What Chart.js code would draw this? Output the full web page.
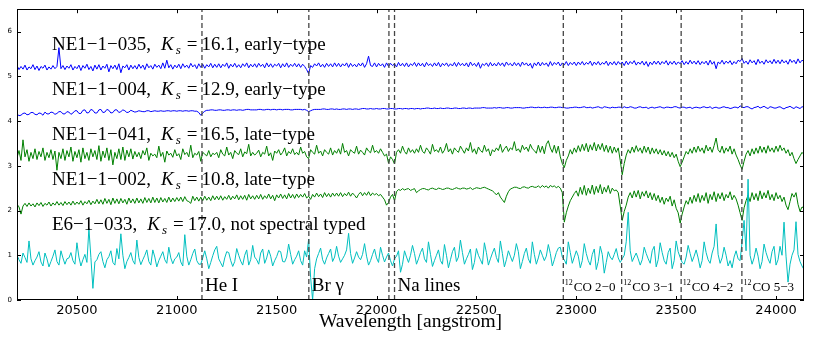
<!DOCTYPE html>
<html>
<head>
<meta charset="utf-8">
<script src="https://cdn.jsdelivr.net/npm/chart.js@4/dist/chart.umd.min.js"></script>
<style>
  html, body { margin: 0; padding: 0; background: #ffffff; }
  #wrap { width: 814px; height: 348px; }
</style>
</head>
<body>
<div id="wrap"><canvas id="c" width="814" height="348"></canvas></div>
<script>
// ---------------- DATA ----------------
const wavelength = [
20200,20210,20220,20230,20240,20250,20260,20270,20280,20290,20300,20310,20320,20330,20340,20350,20360,20370,20380,20390,
20400,20410,20420,20430,20440,20450,20460,20470,20480,20490,20500,20510,20520,20530,20540,20550,20560,20570,20580,20590,
20600,20610,20620,20630,20640,20650,20660,20670,20680,20690,20700,20710,20720,20730,20740,20750,20760,20770,20780,20790,
20800,20810,20820,20830,20840,20850,20860,20870,20880,20890,20900,20910,20920,20930,20940,20950,20960,20970,20980,20990,
21000,21010,21020,21030,21040,21050,21060,21070,21080,21090,21100,21110,21120,21130,21140,21150,21160,21170,21180,21190,
21200,21210,21220,21230,21240,21250,21260,21270,21280,21290,21300,21310,21320,21330,21340,21350,21360,21370,21380,21390,
21400,21410,21420,21430,21440,21450,21460,21470,21480,21490,21500,21510,21520,21530,21540,21550,21560,21570,21580,21590,
21600,21610,21620,21630,21640,21650,21660,21670,21680,21690,21700,21710,21720,21730,21740,21750,21760,21770,21780,21790,
21800,21810,21820,21830,21840,21850,21860,21870,21880,21890,21900,21910,21920,21930,21940,21950,21960,21970,21980,21990,
22000,22010,22020,22030,22040,22050,22060,22070,22080,22090,22100,22110,22120,22130,22140,22150,22160,22170,22180,22190,
22200,22210,22220,22230,22240,22250,22260,22270,22280,22290,22300,22310,22320,22330,22340,22350,22360,22370,22380,22390,
22400,22410,22420,22430,22440,22450,22460,22470,22480,22490,22500,22510,22520,22530,22540,22550,22560,22570,22580,22590,
22600,22610,22620,22630,22640,22650,22660,22670,22680,22690,22700,22710,22720,22730,22740,22750,22760,22770,22780,22790,
22800,22810,22820,22830,22840,22850,22860,22870,22880,22890,22900,22910,22920,22930,22940,22950,22960,22970,22980,22990,
23000,23010,23020,23030,23040,23050,23060,23070,23080,23090,23100,23110,23120,23130,23140,23150,23160,23170,23180,23190,
23200,23210,23220,23230,23240,23250,23260,23270,23280,23290,23300,23310,23320,23330,23340,23350,23360,23370,23380,23390,
23400,23410,23420,23430,23440,23450,23460,23470,23480,23490,23500,23510,23520,23530,23540,23550,23560,23570,23580,23590,
23600,23610,23620,23630,23640,23650,23660,23670,23680,23690,23700,23710,23720,23730,23740,23750,23760,23770,23780,23790,
23800,23810,23820,23830,23840,23850,23860,23870,23880,23890,23900,23910,23920,23930,23940,23950,23960,23970,23980,23990,
24000,24010,24020,24030,24040,24050,24060,24070,24080,24090,24100,24110,24120,24130,24140];

const fluxNE1_035 = [
5.24,5.15,5.22,5.16,5.25,5.14,5.21,5.17,5.26,5.15,5.23,5.13,5.22,5.18,5.25,5.14,5.21,5.16,5.24,5.17,
5.22,5.64,5.17,5.24,5.15,5.23,5.18,5.26,5.14,5.22,5.17,5.25,5.13,5.24,5.18,5.27,5.15,5.22,5.12,5.25,
5.16,5.26,5.14,5.23,5.18,5.27,5.10,5.24,5.17,5.25,5.15,5.28,5.08,5.23,5.19,5.26,5.14,5.25,5.17,5.24,
5.16,5.27,5.18,5.25,5.15,5.28,5.19,5.24,5.16,5.27,5.20,5.25,5.17,5.30,5.18,5.36,5.19,5.26,5.16,5.25,
5.19,5.27,5.17,5.28,5.20,5.25,5.18,5.29,5.21,5.26,5.17,5.28,5.20,5.27,5.18,5.26,5.21,5.29,5.19,5.27,
5.20,5.28,5.19,5.27,5.22,5.30,5.18,5.27,5.21,5.29,5.20,5.26,5.19,5.28,5.22,5.30,5.19,5.27,5.21,5.28,
5.20,5.29,5.22,5.27,5.19,5.30,5.21,5.28,5.20,5.27,5.23,5.29,5.19,5.28,5.21,5.30,5.20,5.27,5.22,5.29,
5.21,5.28,5.20,5.27,5.22,5.15,5.06,5.24,5.20,5.28,5.23,5.30,5.21,5.27,5.20,5.29,5.22,5.28,5.21,5.30,
5.22,5.29,5.21,5.28,5.23,5.30,5.20,5.29,5.22,5.27,5.21,5.29,5.23,5.30,5.20,5.28,5.45,5.24,5.22,5.30,
5.21,5.29,5.23,5.28,5.20,5.30,5.22,5.29,5.24,5.28,5.21,5.31,5.23,5.29,5.22,5.30,5.21,5.28,5.24,5.31,
5.22,5.30,5.23,5.29,5.21,5.31,5.24,5.28,5.22,5.30,5.23,5.31,5.21,5.29,5.24,5.30,5.22,5.28,5.23,5.31,
5.22,5.31,5.24,5.29,5.23,5.30,5.21,5.32,5.24,5.29,5.22,5.31,5.18,5.28,5.24,5.30,5.22,5.31,5.23,5.29,
5.23,5.31,5.24,5.30,5.22,5.32,5.25,5.29,5.23,5.31,5.24,5.30,5.22,5.32,5.25,5.30,5.23,5.29,5.18,5.30,
5.24,5.32,5.23,5.31,5.25,5.30,5.22,5.33,5.24,5.31,5.26,5.32,5.23,5.30,5.25,5.33,5.24,5.31,5.26,5.32,
5.24,5.32,5.26,5.33,5.25,5.31,5.27,5.34,5.24,5.32,5.26,5.33,5.25,5.31,5.27,5.34,5.24,5.32,5.26,5.33,
5.25,5.33,5.27,5.32,5.24,5.34,5.26,5.33,5.28,5.35,5.25,5.32,5.27,5.34,5.25,5.33,5.22,5.32,5.26,5.34,
5.27,5.34,5.26,5.33,5.28,5.35,5.25,5.33,5.27,5.34,5.26,5.32,5.28,5.35,5.26,5.33,5.27,5.36,5.28,5.34,
5.27,5.35,5.26,5.33,5.28,5.34,5.25,5.36,5.27,5.33,5.17,5.32,5.28,5.36,5.27,5.34,5.29,5.35,5.26,5.33,
5.28,5.36,5.33,5.40,5.29,5.34,5.27,5.37,5.30,5.35,5.26,5.38,5.29,5.34,5.27,5.37,5.30,5.35,5.28,5.38,
5.29,5.36,5.28,5.37,5.30,5.35,5.27,5.38,5.31,5.36,5.28,5.39,5.30,5.36,5.33];

const fluxNE1_004 = [
4.16,4.12,4.13,4.17,4.18,4.14,4.15,4.19,4.19,4.15,4.14,4.18,4.17,4.13,4.20,4.16,4.16,4.20,4.19,4.15,
4.17,4.21,4.21,4.16,4.16,4.21,4.20,4.15,4.18,4.23,4.23,4.17,4.17,4.24,4.25,4.18,4.19,4.26,4.24,4.18,
4.18,4.25,4.26,4.19,4.20,4.26,4.24,4.18,4.19,4.25,4.25,4.19,4.21,4.25,4.23,4.19,4.20,4.24,4.22,4.20,
4.21,4.23,4.22,4.21,4.21,4.23,4.23,4.21,4.22,4.23,4.22,4.22,4.23,4.22,4.22,4.23,4.23,4.22,4.23,4.23,
4.22,4.23,4.23,4.22,4.23,4.23,4.22,4.23,4.23,4.22,4.22,4.19,4.13,4.18,4.22,4.24,4.24,4.25,4.25,4.24,
4.24,4.25,4.25,4.24,4.24,4.25,4.25,4.24,4.25,4.25,4.24,4.25,4.25,4.24,4.25,4.26,4.26,4.25,4.25,4.25,
4.25,4.26,4.26,4.25,4.25,4.26,4.26,4.25,4.26,4.26,4.25,4.26,4.26,4.25,4.26,4.26,4.26,4.25,4.25,4.26,
4.26,4.26,4.26,4.25,4.26,4.24,4.21,4.23,4.25,4.26,4.26,4.26,4.26,4.27,4.27,4.26,4.26,4.27,4.27,4.26,
4.27,4.26,4.26,4.27,4.27,4.26,4.27,4.27,4.26,4.27,4.27,4.26,4.27,4.28,4.28,4.27,4.27,4.28,4.27,4.27,
4.28,4.27,4.27,4.28,4.28,4.27,4.27,4.28,4.28,4.27,4.27,4.28,4.28,4.27,4.28,4.28,4.27,4.28,4.28,4.27,
4.28,4.28,4.27,4.28,4.28,4.29,4.29,4.28,4.28,4.29,4.28,4.28,4.29,4.28,4.28,4.29,4.29,4.28,4.28,4.29,
4.29,4.28,4.28,4.29,4.29,4.28,4.29,4.29,4.28,4.29,4.29,4.29,4.29,4.30,4.30,4.29,4.29,4.29,4.29,4.30,
4.29,4.30,4.30,4.29,4.29,4.30,4.30,4.29,4.29,4.30,4.30,4.30,4.30,4.29,4.29,4.30,4.30,4.31,4.31,4.30,
4.30,4.31,4.30,4.30,4.31,4.30,4.30,4.31,4.31,4.30,4.30,4.31,4.31,4.30,4.30,4.29,4.29,4.30,4.30,4.31,
4.31,4.30,4.30,4.31,4.32,4.30,4.30,4.31,4.29,4.30,4.31,4.32,4.30,4.29,4.32,4.31,4.30,4.29,4.31,4.30,
4.30,4.31,4.31,4.29,4.32,4.30,4.30,4.32,4.31,4.29,4.29,4.31,4.32,4.30,4.30,4.31,4.28,4.30,4.31,4.29,
4.30,4.31,4.32,4.30,4.29,4.31,4.31,4.30,4.30,4.32,4.32,4.30,4.29,4.31,4.31,4.29,4.30,4.31,4.28,4.30,
4.31,4.30,4.29,4.31,4.32,4.30,4.30,4.32,4.28,4.30,4.31,4.29,4.29,4.31,4.32,4.30,4.30,4.28,4.29,4.31,
4.31,4.29,4.34,4.31,4.30,4.32,4.32,4.29,4.27,4.30,4.31,4.33,4.29,4.31,4.33,4.30,4.28,4.32,4.31,4.29,
4.29,4.31,4.32,4.29,4.27,4.30,4.31,4.33,4.30,4.28,4.32,4.30,4.28,4.32,4.31];

const fluxNE1_041 = [
3.18,3.34,3.12,3.58,3.20,3.36,3.10,3.30,3.16,3.38,3.14,3.32,3.20,3.40,3.12,3.30,3.18,3.36,3.14,3.33,
2.90,3.30,3.16,3.38,3.12,3.34,3.20,3.42,3.10,3.32,3.18,3.36,3.08,3.40,3.16,3.30,3.12,3.38,3.20,3.34,
3.14,3.45,3.10,3.33,3.18,3.40,3.12,3.36,3.02,3.30,3.16,3.38,3.14,3.42,3.12,3.35,3.20,3.38,3.15,3.32,
3.20,3.30,3.16,3.34,3.24,3.40,3.12,3.28,3.22,3.26,3.18,3.44,3.21,3.30,3.08,3.33,3.24,3.28,3.19,3.36,
3.22,3.27,3.14,3.38,3.25,3.30,3.20,3.46,3.18,3.28,3.24,3.32,3.10,3.30,3.26,3.22,3.34,3.20,3.28,3.25,
3.30,3.18,3.36,3.26,3.22,3.42,3.24,3.30,3.16,3.34,3.28,3.25,3.38,3.20,3.31,3.27,3.48,3.22,3.30,3.24,
3.28,3.35,3.20,3.30,3.26,3.44,3.22,3.29,3.12,3.33,3.28,3.36,3.24,3.30,3.40,3.22,3.32,3.27,3.38,3.25,
3.30,3.24,3.42,3.28,3.32,3.20,3.16,3.36,3.30,3.26,3.46,3.28,3.33,3.22,3.36,3.30,3.26,3.40,3.24,3.34,
3.28,3.38,3.26,3.50,3.30,3.34,3.22,3.36,3.31,3.28,3.44,3.26,3.35,3.30,3.24,3.40,3.33,3.29,3.46,3.30,
3.34,3.28,3.38,3.30,3.22,3.26,3.06,3.20,3.14,3.04,3.30,3.36,3.28,3.44,3.32,3.26,3.40,3.30,3.36,3.28,
3.38,3.30,3.46,3.32,3.28,3.40,3.34,3.26,3.48,3.32,3.36,3.30,3.42,3.28,3.35,3.50,3.31,3.38,3.26,3.40,
3.34,3.30,3.44,3.36,3.28,3.40,3.33,3.52,3.30,3.38,3.26,3.42,3.34,3.30,3.46,3.32,3.38,3.22,3.36,3.31,
3.40,3.34,3.48,3.30,3.38,3.44,3.32,3.40,3.36,3.54,3.33,3.38,3.30,3.46,3.36,3.42,3.32,3.48,3.38,3.34,
3.28,3.46,3.30,3.44,3.27,3.48,3.56,3.40,3.30,3.46,3.28,3.44,3.20,3.05,2.96,3.12,3.22,3.36,3.26,3.40,
3.30,3.45,3.32,3.48,3.34,3.50,3.31,3.47,3.35,3.52,3.33,3.48,3.36,3.50,3.32,3.46,3.30,3.44,3.28,3.42,
3.30,3.40,3.12,2.80,3.05,3.24,3.36,3.28,3.42,3.30,3.45,3.32,3.40,3.28,3.44,3.30,3.42,3.26,3.40,3.28,
3.38,3.26,3.36,3.24,3.34,3.22,3.32,3.20,3.30,3.18,3.26,3.10,2.98,3.08,3.20,3.32,3.26,3.38,3.28,3.42,
3.30,3.44,3.32,3.40,3.28,3.46,3.33,3.42,3.30,3.45,3.62,3.36,3.30,3.44,3.28,3.40,3.32,3.44,3.26,3.38,
3.24,3.14,3.02,2.92,3.10,3.26,3.34,3.22,3.38,3.26,3.40,3.28,3.44,3.30,3.42,3.28,3.45,3.32,3.40,3.30,
3.44,3.32,3.46,3.34,3.40,3.28,3.36,3.22,3.30,3.16,3.05,3.14,3.22,3.30,3.25];

const fluxNE1_002 = [
2.14,2.08,1.92,2.10,2.16,2.09,2.17,2.10,2.15,2.08,2.17,2.11,2.18,2.09,2.16,2.12,2.19,2.10,2.17,2.12,
2.20,2.12,2.18,2.11,2.20,2.13,2.19,2.12,2.21,2.13,2.19,2.14,2.22,2.12,2.20,2.15,2.23,2.13,2.21,2.15,
2.25,2.15,2.24,2.14,2.27,2.16,2.25,2.13,2.28,2.16,2.26,2.15,2.27,2.17,2.25,2.14,2.28,2.17,2.26,2.16,
2.28,2.17,2.26,2.16,2.29,2.18,2.27,2.17,2.30,2.18,2.28,2.17,2.29,2.19,2.27,2.18,2.30,2.19,2.28,2.20,
2.29,2.21,2.30,2.20,2.31,2.22,2.20,2.16,2.32,2.22,2.30,2.21,2.30,2.22,2.32,2.23,2.30,2.22,2.33,2.24,
2.32,2.24,2.33,2.23,2.31,2.25,2.34,2.24,2.32,2.26,2.35,2.24,2.33,2.25,2.34,2.23,2.36,2.26,2.33,2.25,
2.34,2.26,2.36,2.25,2.33,2.27,2.37,2.26,2.34,2.22,2.35,2.28,2.37,2.27,2.35,2.26,2.38,2.28,2.36,2.27,
2.37,2.29,2.36,2.30,2.38,2.28,2.32,2.25,2.36,2.30,2.39,2.31,2.37,2.29,2.40,2.31,2.38,2.30,2.39,2.32,
2.39,2.32,2.40,2.31,2.38,2.33,2.41,2.32,2.39,2.34,2.28,2.36,2.41,2.33,2.40,2.34,2.42,2.33,2.39,2.35,
2.38,2.33,2.36,2.30,2.24,2.12,2.18,2.30,2.36,2.22,2.42,2.47,2.45,2.49,2.46,2.48,2.49,2.45,2.47,2.49,
2.40,2.44,2.47,2.49,2.49,2.47,2.46,2.49,2.50,2.48,2.47,2.50,2.49,2.47,2.48,2.50,2.50,2.48,2.47,2.49,
2.51,2.49,2.48,2.50,2.50,2.48,2.49,2.51,2.47,2.49,2.51,2.50,2.49,2.51,2.52,2.50,2.48,2.46,2.44,2.40,
2.35,2.40,2.30,2.24,2.18,2.32,2.42,2.48,2.50,2.52,2.52,2.50,2.49,2.52,2.53,2.51,2.50,2.53,2.54,2.52,
2.52,2.55,2.51,2.56,2.52,2.55,2.50,2.56,2.53,2.55,2.51,2.54,2.50,2.40,1.74,1.95,2.10,2.22,2.30,2.38,
2.44,2.32,2.52,2.36,2.56,2.34,2.50,2.38,2.57,2.36,2.54,2.40,2.58,2.37,2.52,2.41,2.56,2.38,2.50,2.44,
2.46,2.40,2.10,1.78,1.98,2.12,2.30,2.40,2.28,2.44,2.30,2.45,2.26,2.42,2.32,2.44,2.28,2.40,2.24,2.38,
2.22,2.34,2.18,2.30,2.14,2.28,2.20,2.32,2.10,2.24,2.05,1.95,1.72,1.92,2.08,2.22,2.14,2.30,2.16,2.34,
2.20,2.38,2.18,2.34,2.22,2.40,2.16,2.36,2.24,2.42,2.20,2.38,2.26,2.40,2.22,2.36,2.28,2.42,2.24,2.34,
2.26,2.12,1.95,1.78,2.06,2.22,2.34,2.20,2.40,2.24,2.38,2.22,2.44,2.26,2.40,2.28,2.45,2.24,2.36,2.22,
2.40,2.26,2.34,2.20,2.30,2.12,2.02,2.20,2.38,2.30,2.40,2.14,1.98,2.08,2.05];

const fluxE6_033 = [
1.00,0.90,0.82,1.05,0.95,0.84,1.32,0.92,0.78,0.88,0.96,1.08,0.85,0.76,1.05,0.92,0.74,0.86,0.98,1.12,
0.86,0.78,1.10,0.94,0.80,0.92,0.94,1.06,0.88,0.80,1.28,0.96,0.76,0.90,1.02,0.84,1.60,0.95,0.26,0.85,
0.90,1.02,1.08,0.86,0.72,0.90,0.97,1.10,0.84,0.78,1.15,0.92,1.48,1.00,0.70,0.86,0.95,1.06,0.88,0.80,
1.34,0.95,0.79,0.90,1.00,1.12,0.86,0.78,1.12,0.96,0.74,0.88,0.98,1.08,0.90,0.82,1.18,0.94,0.81,0.92,
0.96,1.06,0.85,0.76,1.46,0.98,0.78,0.90,1.04,1.14,0.88,0.80,0.80,0.94,1.10,0.92,0.70,0.84,0.99,1.12,
1.20,0.92,0.83,0.74,0.94,1.08,1.06,0.88,0.75,0.86,1.15,1.00,0.87,0.78,1.00,1.12,0.78,0.90,1.22,0.96,
0.90,0.80,1.05,1.14,0.82,0.94,1.12,0.98,0.76,0.88,0.97,1.10,1.08,0.86,0.85,0.96,1.25,1.02,0.80,0.90,
0.98,1.10,0.88,0.78,1.10,0.96,1.36,0.50,0.00,0.70,0.92,1.04,1.16,0.90,0.80,0.94,1.04,1.14,0.86,0.96,
1.20,0.98,0.84,0.92,1.00,1.12,1.49,1.04,0.82,0.94,1.08,0.96,0.90,1.02,1.26,0.98,0.78,0.88,1.02,1.14,
0.94,0.84,1.18,1.00,0.85,0.96,1.05,0.88,0.76,0.92,0.98,1.10,0.62,0.80,1.10,0.96,0.84,1.00,1.22,1.04,
0.80,0.92,1.06,1.16,0.92,0.84,1.30,1.02,0.75,0.88,1.00,1.12,0.88,0.80,1.24,1.00,0.72,0.90,1.08,1.18,
0.86,0.96,1.34,1.06,0.80,0.92,1.02,1.14,0.68,0.84,1.15,1.00,0.90,0.80,1.28,1.06,0.78,0.92,1.05,1.16,
0.95,0.84,1.32,1.04,0.74,0.90,1.10,0.98,0.86,1.00,1.26,1.08,0.70,0.86,1.04,1.16,0.92,0.82,1.30,1.02,
0.80,0.94,1.12,1.00,0.88,0.98,1.24,1.04,0.76,0.90,1.06,1.16,1.18,0.96,0.90,0.80,1.30,1.06,0.82,0.96,
1.10,0.98,0.72,0.88,1.26,1.04,0.88,0.78,1.02,1.14,0.68,0.86,1.20,1.02,0.60,0.84,1.08,0.96,0.90,1.02,
1.15,0.94,0.84,0.92,1.00,1.30,1.96,1.10,0.86,0.96,1.05,0.92,0.78,0.90,1.18,1.04,0.92,0.82,1.10,1.20,
0.74,0.90,1.28,1.06,0.88,0.80,1.06,1.16,0.70,0.88,1.32,1.08,0.95,0.84,0.80,0.96,1.22,1.04,0.86,0.98,
1.12,0.94,0.72,0.88,1.30,1.06,0.90,0.82,1.05,1.20,1.70,1.02,0.82,0.94,1.18,1.00,0.76,0.88,0.72,0.96,
1.10,0.92,0.88,1.30,1.78,1.10,2.70,1.00,0.80,0.94,1.16,0.98,0.70,0.86,1.25,1.06,0.92,0.82,1.08,1.20,
0.78,0.90,1.20,1.00,1.74,0.98,0.40,0.80,1.00,1.12,1.75,1.02,0.86,0.76,0.68];

// spectrum labels
const specNames  = ['NE1\u22121\u2212035', 'NE1\u22121\u2212004', 'NE1\u22121\u2212041', 'NE1\u22121\u2212002', 'E6\u22121\u2212033'];
const specKs     = ['16.1', '12.9', '16.5', '10.8', '17.0'];
const specTypes  = ['early\u2212type', 'early\u2212type', 'late\u2212type', 'late\u2212type', 'not spectral typed'];
const specLabelY = [5.58, 4.58, 3.58, 2.58, 1.57];
const specLabelX = 20375;

// spectral feature lines
const featureLines   = [21126, 21661, 22062, 22090, 22935, 23227, 23525, 23829];
const featureLabelAt = [21126, 21661, 22090, 22935, 23227, 23525, 23829];
const featureIso     = ['', '', '', '12', '12', '12', '12'];
const featureText    = ['He I', 'Br \u03b3', 'Na lines', 'CO 2\u22120', 'CO 3\u22121', 'CO 4\u22122', 'CO 5\u22123'];
const featureLabelY  = 0.2;

// axes
const xTickValues = [20500, 21000, 21500, 22000, 22500, 23000, 23500, 24000];
const yTickValues = [0, 1, 2, 3, 4, 5, 6];
const xRange = [20200, 24140];
const yRange = [0, 6.5];
const xTitle = 'Wavelength [angstrom]';

// ---------------- CHART ----------------
function toXY(ys) { return ys.map((v, i) => ({ x: wavelength[i], y: v })); }

const datasets = [];
featureLines.forEach(w => {
  datasets.push({
    data: [{ x: w, y: yRange[0] }, { x: w, y: yRange[1] }],
    borderColor: '#444444', borderWidth: 1.3, borderDash: [5, 3],
    pointRadius: 0, fill: false
  });
});
const specSeries = [
  { d: fluxE6_033,  c: '#00bfbf' },
  { d: fluxNE1_002, c: '#008000' },
  { d: fluxNE1_041, c: '#008000' },
  { d: fluxNE1_004, c: '#0000ff' },
  { d: fluxNE1_035, c: '#0000ff' }
];
specSeries.forEach(s => {
  datasets.push({
    data: toXY(s.d), borderColor: s.c, borderWidth: 1,
    pointRadius: 0, fill: false, tension: 0
  });
});

const SERIF = '"Liberation Serif", "Times New Roman", serif';

function drawRun(ctx, x, y, parts) {
  for (const p of parts) {
    ctx.font = p.font;
    ctx.fillText(p.t, x, y + (p.dy || 0));
    x += ctx.measureText(p.t).width + (p.gap || 0);
  }
}

const overlay = {
  id: 'overlay',
  afterDraw(chart) {
    const { ctx, chartArea: a, scales: { x, y } } = chart;
    ctx.save();
    // frame
    ctx.strokeStyle = '#000'; ctx.lineWidth = 1;
    ctx.strokeRect(Math.round(a.left) + 0.5, Math.round(a.top) + 0.5,
                   Math.round(a.right - a.left) - 1, Math.round(a.bottom - a.top) - 1);
    // inward ticks
    ctx.beginPath();
    xTickValues.forEach(v => {
      const px = Math.round(x.getPixelForValue(v)) + 0.5;
      ctx.moveTo(px, a.bottom); ctx.lineTo(px, a.bottom - 4);
      ctx.moveTo(px, a.top); ctx.lineTo(px, a.top + 4);
    });
    yTickValues.forEach(v => {
      const py = Math.round(y.getPixelForValue(v)) + 0.5;
      ctx.moveTo(a.left, py); ctx.lineTo(a.left + 4, py);
      ctx.moveTo(a.right, py); ctx.lineTo(a.right - 4, py);
    });
    ctx.stroke();

    ctx.fillStyle = '#000';
    ctx.textBaseline = 'alphabetic';
    ctx.textAlign = 'left';
    // spectrum labels
    specNames.forEach((n, i) => {
      const px = x.getPixelForValue(specLabelX);
      const py = y.getPixelForValue(specLabelY[i]);
      drawRun(ctx, px, py, [
        { t: n + ',', font: '19px ' + SERIF, gap: 10 },
        { t: 'K', font: 'italic 19px ' + SERIF, gap: 2 },
        { t: 's', font: 'italic 13px ' + SERIF, dy: 4, gap: 6 },
        { t: '=', font: '19px ' + SERIF, gap: 4 },
        { t: specKs[i] + ', ' + specTypes[i], font: '19px ' + SERIF }
      ]);
    });
    // feature labels
    featureLabelAt.forEach((w, i) => {
      const px = x.getPixelForValue(w);
      const py = y.getPixelForValue(featureLabelY);
      if (featureIso[i]) {
        drawRun(ctx, px + 1.5, py, [
          { t: featureIso[i], font: '8px ' + SERIF, dy: -6, gap: 1 },
          { t: featureText[i], font: '13px ' + SERIF }
        ]);
      } else {
        drawRun(ctx, px + 3, py, [{ t: featureText[i], font: '19px ' + SERIF }]);
      }
    });
    // x axis title
    ctx.font = '19.5px ' + SERIF;
    ctx.textAlign = 'center';
    ctx.fillText(xTitle, (a.left + a.right) / 2, a.bottom + 27);
    ctx.restore();
  }
};

new Chart(document.getElementById('c'), {
  type: 'line',
  data: { datasets },
  options: {
    responsive: false,
    animation: false,
    devicePixelRatio: 1,
    layout: { padding: { left: 0, top: 9, right: 10, bottom: 0 } },
    plugins: { legend: { display: false }, tooltip: { enabled: false } },
    elements: { line: { tension: 0 } },
    scales: {
      x: {
        type: 'linear', min: xRange[0], max: xRange[1],
        grid: { display: false, drawTicks: false },
        border: { display: false },
        afterBuildTicks: s => { s.ticks = xTickValues.map(v => ({ value: v })); },
        afterFit: s => { s.height = 48; },
        ticks: {
          padding: 3, color: '#000', maxRotation: 0, autoSkip: false,
          font: { family: '"DejaVu Sans", sans-serif', size: 13 },
          callback: v => String(v)
        }
      },
      y: {
        type: 'linear', min: yRange[0], max: yRange[1],
        grid: { display: false, drawTicks: false },
        border: { display: false },
        afterBuildTicks: s => { s.ticks = yTickValues.map(v => ({ value: v })); },
        afterFit: s => { s.width = 17; },
        ticks: {
          padding: 5, color: '#000',
          font: { family: '"DejaVu Sans", sans-serif', size: 7 },
          callback: v => String(v)
        }
      }
    }
  },
  plugins: [overlay]
});
</script>
</body>
</html>
